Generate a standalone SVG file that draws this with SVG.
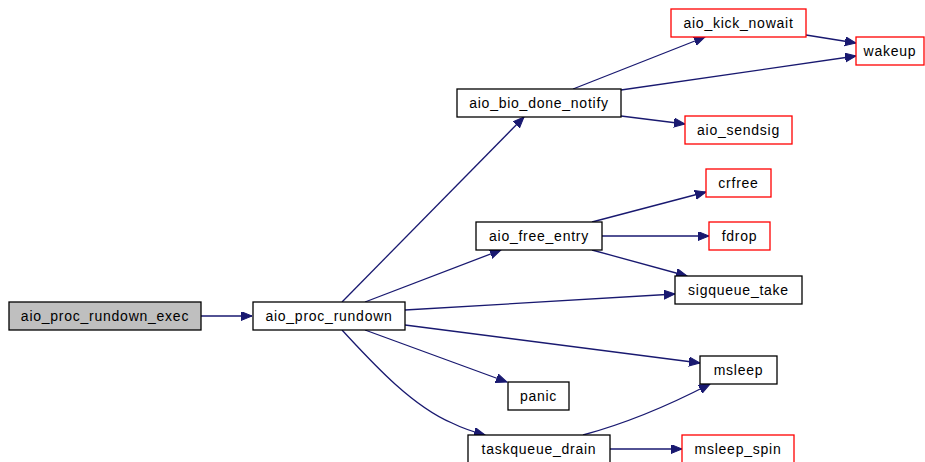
<svg xmlns="http://www.w3.org/2000/svg" width="925" height="462" viewBox="0 0 925 462">
  <style>
    .node rect { fill: #ffffff; stroke: #000000; stroke-width: 1.3; }
    .node.root rect { fill: #bfbfbf; }
    .node.ext rect { stroke: #ff0000; }
    .node text { font-family: "Liberation Sans", Arial, sans-serif; font-size: 14px; letter-spacing: 0.75px; text-anchor: middle; fill: #000000; }
    .edges path { fill: none; stroke: #191970; stroke-width: 1.3; marker-end: url(#arrow); }
  </style>
  <defs>
    <marker id="arrow" markerUnits="userSpaceOnUse" markerWidth="12" markerHeight="10" refX="11" refY="4.5" orient="auto">
      <path d="M0,0 L11,4.5 L0,9 Z" fill="#191970" stroke="#191970" stroke-width="1"/>
    </marker>
  </defs>
  <rect width="925" height="462" fill="#ffffff"/>

  <g class="edges">
    <path d="M201,316 L252,316"/>
    <path d="M342,302 L524,117"/>
    <path d="M365,302 L501,250"/>
    <path d="M405,310 L675,294"/>
    <path d="M405,325 L700,363"/>
    <path d="M365,330 L507,382"/>
    <path d="M342,330 C370,360 410,405 452,423 C462,428 474,432 485,435"/>
    <path d="M573,89 L705,37"/>
    <path d="M621,90 L856,56"/>
    <path d="M806,35 L856,43"/>
    <path d="M621,116 L685,124"/>
    <path d="M592,222 L706,192"/>
    <path d="M602,236 L709,236"/>
    <path d="M592,250 L687,276"/>
    <path d="M583,435 C620,425 660,410 710,384"/>
    <path d="M610,449 L682,449"/>
  </g>

  <g id="aio_proc_rundown_exec" class="node root">
    <rect x="9" y="302" width="192" height="28"/>
    <text x="105" y="321">aio_proc_rundown_exec</text>
  </g>
  <g id="aio_proc_rundown" class="node">
    <rect x="253" y="302" width="152" height="28"/>
    <text x="329" y="321">aio_proc_rundown</text>
  </g>
  <g id="aio_bio_done_notify" class="node">
    <rect x="457" y="89" width="164" height="28"/>
    <text x="539" y="108">aio_bio_done_notify</text>
  </g>
  <g id="aio_kick_nowait" class="node ext">
    <rect x="671" y="9" width="135" height="28"/>
    <text x="738.5" y="28">aio_kick_nowait</text>
  </g>
  <g id="wakeup" class="node ext">
    <rect x="856" y="37" width="68" height="28"/>
    <text x="890" y="56">wakeup</text>
  </g>
  <g id="aio_sendsig" class="node ext">
    <rect x="685" y="116" width="107" height="28"/>
    <text x="738.5" y="135">aio_sendsig</text>
  </g>
  <g id="crfree" class="node ext">
    <rect x="706" y="169" width="65" height="28"/>
    <text x="738.5" y="188">crfree</text>
  </g>
  <g id="fdrop" class="node ext">
    <rect x="709" y="222" width="61" height="28"/>
    <text x="739.5" y="241">fdrop</text>
  </g>
  <g id="aio_free_entry" class="node">
    <rect x="476" y="222" width="126" height="28"/>
    <text x="539" y="241">aio_free_entry</text>
  </g>
  <g id="sigqueue_take" class="node">
    <rect x="675" y="276" width="127" height="28"/>
    <text x="738.5" y="295">sigqueue_take</text>
  </g>
  <g id="msleep" class="node">
    <rect x="700" y="356" width="77" height="28"/>
    <text x="738.5" y="375">msleep</text>
  </g>
  <g id="panic" class="node">
    <rect x="508" y="382" width="61" height="28"/>
    <text x="538.5" y="401">panic</text>
  </g>
  <g id="taskqueue_drain" class="node">
    <rect x="468" y="435" width="142" height="28"/>
    <text x="539" y="454">taskqueue_drain</text>
  </g>
  <g id="msleep_spin" class="node ext">
    <rect x="682" y="435" width="112" height="28"/>
    <text x="738" y="454">msleep_spin</text>
  </g>
</svg>
